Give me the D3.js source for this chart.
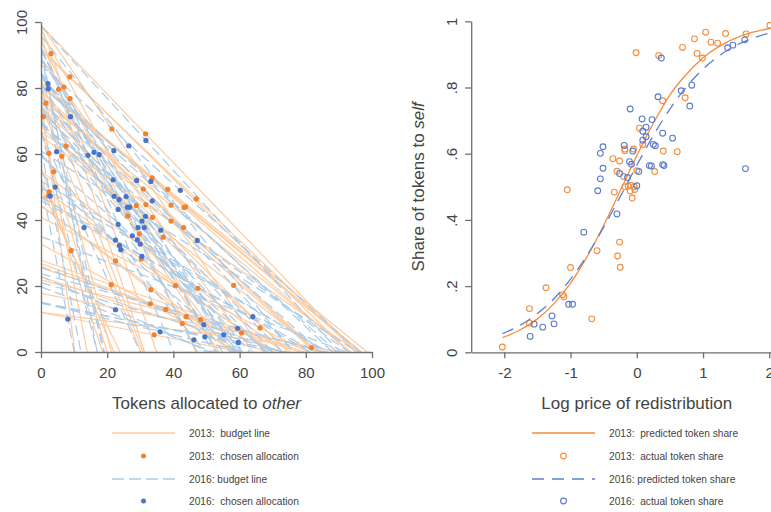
<!DOCTYPE html>
<html>
<head>
<meta charset="utf-8">
<script src="https://cdn.jsdelivr.net/npm/d3@7"></script>
<style>
  body { margin: 0; background: #fff; }
  svg { font-family: "Liberation Sans", Arial, sans-serif; }
</style>
</head>
<body>
<svg id="chart" width="771" height="512"></svg>
<script>
// ---- Left panel: chosen allocations and the log price of each budget ----
const allocOther2013 = [3.0, 8.7, 5.3, 6.9, 8.8, 1.5, 0.7, 7.6, 2.4, 6.3, 3.8, 21.4, 31.6, 33.6, 30.9, 38.3, 46.9, 2.2, 2.5, 31.7, 39.3, 43.2, 43.7, 28.8, 26.2, 33.7, 39.3, 43.1, 29.7, 36.9, 9.1, 22.5, 30.3, 21.2, 33.2, 40.6, 47.4, 58.2, 33.0, 37.7, 43.9, 42.7, 48.2, 34.2, 60.6, 66.2, 81.7];
const allocSelf2013 = [90.4, 83.4, 79.6, 80.3, 76.8, 75.4, 71.3, 62.4, 60.2, 59.3, 54.6, 67.6, 66.1, 52.8, 49.4, 49.3, 46.4, 47.3, 48.5, 44.7, 44.5, 43.8, 44.0, 44.4, 41.2, 40.8, 39.7, 37.7, 35.8, 34.8, 30.7, 27.6, 28.2, 20.4, 18.9, 20.1, 19.3, 20.2, 14.6, 12.9, 10.7, 8.6, 9.8, 5.2, 5.8, 7.3, 1.3];
const budgetLogPrice2013 = [1.04, -0.01, 1.12, 0.69, 0.33, 1.34, 2.01, 0.99, 1.65, 0.91, 1.22, 0.39, 0.04, -0.18, -0.05, -0.20, -0.04, 0.87, 1.10, -0.36, -0.20, -0.13, -0.18, 0.61, 0.40, 0.00, -0.09, -0.07, 0.27, -0.10, 0.73, -0.30, -0.34, -1.05, -0.26, -0.40, -0.29, -0.25, -0.60, -1.00, -1.37, -1.10, -1.12, -1.62, -1.62, -0.68, -2.03];

const allocOther2016 = [2.1, 2.2, 8.9, 4.7, 14.2, 16.0, 17.6, 22.0, 26.5, 31.7, 21.8, 28.9, 33.2, 42.1, 4.3, 2.8, 22.1, 23.6, 25.7, 33.6, 23.3, 26.1, 26.8, 31.6, 30.5, 13.0, 23.3, 29.3, 31.2, 36.2, 47.2, 22.5, 27.6, 29.1, 23.7, 24.1, 30.0, 30.5, 22.5, 8.1, 36.0, 46.2, 49.2, 49.5, 55.2, 59.4, 59.6, 64.0];
const allocSelf2016 = [81.3, 79.8, 71.3, 60.7, 59.6, 60.5, 59.8, 61.0, 62.5, 64.1, 52.2, 52.0, 51.7, 49.0, 50.0, 47.3, 47.2, 46.2, 47.1, 45.8, 43.2, 43.9, 43.9, 41.1, 39.7, 37.7, 38.7, 37.7, 37.7, 36.9, 33.8, 33.9, 35.2, 34.0, 32.3, 31.0, 32.7, 29.0, 12.8, 10.0, 6.1, 3.7, 8.3, 4.6, 5.2, 7.2, 2.9, 10.7];
const budgetLogPrice2016 = [1.70, 1.55, 0.37, 1.45, 0.83, 0.67, 0.32, -0.10, 0.23, 0.09, 0.08, 0.09, -0.06, -0.10, 1.37, 1.63, 0.14, 0.39, 0.54, -0.11, 0.14, 0.25, -0.45, 0.41, 0.39, 0.80, 0.28, 0.22, 0.03, 0.00, -0.30, -0.55, -0.51, -0.14, -0.08, 0.19, -0.55, -0.59, -0.80, 1.64, -0.97, -1.42, -1.03, -1.55, -1.25, -1.28, -1.61, -0.97];

// ---- Right panel: actual token shares against log price ----
const shareLogPrice2013 = [-2.03, -1.62, -1.62, -1.37, -1.12, -1.10, -1.00, -1.05, -0.68, -0.60, -0.26, -0.29, -0.25, -0.34, -0.18, -0.13, -0.09, -0.04, -0.03, -0.10, -0.07, -0.30, 0.00, 0.27, -0.20, -0.36, -0.26, -0.18, -0.18, -0.05, 0.40, 0.61, 0.09, 0.04, 0.39, 0.73, -0.01, 0.33, 0.69, 0.91, 0.99, 0.87, 1.04, 1.12, 1.22, 1.34, 1.65, 2.01];
const shareSelf2013 = [0.016, 0.088, 0.132, 0.195, 0.174, 0.168, 0.256, 0.491, 0.101, 0.307, 0.333, 0.291, 0.257, 0.484, 0.500, 0.502, 0.505, 0.500, 0.492, 0.487, 0.466, 0.547, 0.549, 0.546, 0.531, 0.585, 0.578, 0.614, 0.609, 0.614, 0.608, 0.606, 0.628, 0.677, 0.760, 0.769, 0.905, 0.897, 0.921, 0.903, 0.889, 0.947, 0.967, 0.937, 0.934, 0.963, 0.962, 0.988];

const shareLogPrice2016 = [-1.61, -1.42, -1.55, -1.25, -1.28, -1.03, -0.97, -0.80, -0.30, -0.59, 0.00, -0.55, -0.14, -0.26, 0.03, 1.64, -0.51, 0.22, 0.19, 0.41, 0.39, -0.08, -0.11, -0.55, -0.06, -0.51, 0.28, -0.19, 0.25, 0.09, 0.54, 0.14, 0.39, 0.09, 0.14, 0.23, 0.08, -0.10, 0.80, 0.32, 0.67, 0.83, 0.37, 1.37, 1.45, 1.63];
const shareSelf2016 = [0.048, 0.076, 0.085, 0.086, 0.110, 0.145, 0.145, 0.363, 0.418, 0.488, 0.503, 0.524, 0.528, 0.540, 0.546, 0.555, 0.556, 0.563, 0.564, 0.564, 0.567, 0.568, 0.576, 0.601, 0.608, 0.621, 0.624, 0.625, 0.628, 0.641, 0.647, 0.651, 0.662, 0.668, 0.680, 0.703, 0.705, 0.735, 0.744, 0.772, 0.790, 0.807, 0.889, 0.920, 0.928, 0.944];

// Predicted token share curves
const predLogPrice = [-2.03, -1.75, -1.5, -1.25, -1, -0.75, -0.5, -0.25, 0, 0.25, 0.5, 0.75, 1, 1.25, 1.5, 1.75, 2.02];
const predShare2013 = [0.044, 0.069, 0.101, 0.147, 0.209, 0.289, 0.383, 0.488, 0.594, 0.692, 0.778, 0.840, 0.890, 0.925, 0.950, 0.967, 0.979];
const predShare2016 = [0.056, 0.083, 0.117, 0.162, 0.221, 0.293, 0.378, 0.470, 0.565, 0.655, 0.735, 0.802, 0.856, 0.897, 0.927, 0.949, 0.965];

// Ticks and labels
const tokenTicks = [0, 20, 40, 60, 80, 100];
const priceTicks = [-2, -1, 0, 1, 2];
const shareTicks = [0, 0.2, 0.4, 0.6, 0.8, 1];
const shareTickLabels = ["0", ".2", ".4", ".6", ".8", "1"];

const legendLeft = ["2013:  budget line", "2013:  chosen allocation", "2016: budget line", "2016:  chosen allocation"];
const legendRight = ["2013:  predicted token share", "2013:  actual token share", "2016: predicted token share", "2016:  actual token share"];

// ---- Styling ----
const C = {
  budget13: "#fccca2",
  budget16: "#a9cbe9",
  dot13: "#f4822c",
  dot16: "#4a74c6",
  line13: "#f48c3c",
  line16: "#5b7fcf",
  ring13: "#f58d3e",
  ring16: "#5a7ccb",
  axis: "#6f6f6f",
  text: "#444444"
};

const svg = d3.select("#chart");

// ---- Scales ----
const xL = d3.scaleLinear().domain([0, 100]).range([41, 372]);
const yL = d3.scaleLinear().domain([0, 100]).range([352, 22]);
const xR = d3.scaleLinear().domain([-2.5, 2.5]).range([471.2, 802.4]);
const yR = d3.scaleLinear().domain([0, 1]).range([352.3, 21.3]);

function styleAxis(g) {
  g.select(".domain").attr("stroke", C.axis).attr("stroke-width", 1.3);
  g.selectAll(".tick line").attr("stroke", C.axis).attr("stroke-width", 1.3);
  g.selectAll(".tick text").attr("fill", C.text).attr("font-size", 15);
}
function rotateYLabels(g) {
  g.selectAll(".tick text")
    .attr("transform", "rotate(-90)")
    .attr("x", 0).attr("y", -14).attr("dy", 0)
    .attr("text-anchor", "middle");
}

// ---- Left panel ----
svg.append("defs").append("clipPath").attr("id", "clipL")
  .append("rect").attr("x", xL(0)).attr("y", yL(100))
  .attr("width", xL(100) - xL(0)).attr("height", yL(0) - yL(100));

const gL = svg.append("g");
const plotL = gL.append("g").attr("clip-path", "url(#clipL)");

// Budget line through a chosen allocation with price p = exp(logPrice):
// self/S + other/O = 1 with S = p * O
function budget(o, s, lp) {
  const p = Math.exp(lp);
  const O = o + s / p;
  const S = s + p * o;
  return { O, S };
}

function drawBudgets(others, selfs, lps, color, dash) {
  plotL.append("g").selectAll("line")
    .data(others.map((o, i) => budget(o, selfs[i], lps[i])))
    .join("line")
    .attr("x1", xL(0)).attr("y1", d => yL(d.S))
    .attr("x2", d => xL(d.O)).attr("y2", yL(0))
    .attr("stroke", color).attr("stroke-width", 1.2)
    .attr("stroke-dasharray", dash);
}
function drawDots(others, selfs, color) {
  gL.append("g").selectAll("circle")
    .data(others.map((o, i) => [o, selfs[i]]))
    .join("circle")
    .attr("cx", d => xL(d[0])).attr("cy", d => yL(d[1]))
    .attr("r", 2.6).attr("fill", color);
}

drawBudgets(allocOther2013, allocSelf2013, budgetLogPrice2013, C.budget13, null);
drawDots(allocOther2013, allocSelf2013, C.dot13);
drawBudgets(allocOther2016, allocSelf2016, budgetLogPrice2016, C.budget16, "10,5");
drawDots(allocOther2016, allocSelf2016, C.dot16);

gL.append("g").attr("transform", `translate(0,${yL(0)})`)
  .call(d3.axisBottom(xL).tickValues(tokenTicks).tickSize(6).tickSizeOuter(0).tickPadding(9))
  .call(styleAxis);
gL.append("g").attr("transform", `translate(${xL(0)},0)`)
  .call(d3.axisLeft(yL).tickValues(tokenTicks).tickSize(6).tickSizeOuter(0))
  .call(styleAxis).call(rotateYLabels);

const tL = gL.append("text").attr("x", (xL(0) + xL(100)) / 2).attr("y", 409)
  .attr("text-anchor", "middle").attr("font-size", 17).attr("fill", C.text);
tL.append("tspan").text("Tokens allocated to ");
tL.append("tspan").attr("font-style", "italic").text("other");

// ---- Right panel ----
const gR = svg.append("g");
const line = d3.line().x(d => xR(d[0])).y(d => yR(d[1])).curve(d3.curveMonotoneX);

gR.append("path")
  .datum(predLogPrice.map((x, i) => [x, predShare2013[i]]))
  .attr("d", line).attr("fill", "none")
  .attr("stroke", C.line13).attr("stroke-width", 1.3);
gR.append("g").selectAll("circle")
  .data(shareLogPrice2013.map((x, i) => [x, shareSelf2013[i]]))
  .join("circle")
  .attr("cx", d => xR(d[0])).attr("cy", d => yR(d[1])).attr("r", 2.9)
  .attr("fill", "none").attr("stroke", C.ring13).attr("stroke-width", 1.1);

gR.append("path")
  .datum(predLogPrice.map((x, i) => [x, predShare2016[i]]))
  .attr("d", line).attr("fill", "none")
  .attr("stroke", C.line16).attr("stroke-width", 1.3)
  .attr("stroke-dasharray", "12,8");
gR.append("g").selectAll("circle")
  .data(shareLogPrice2016.map((x, i) => [x, shareSelf2016[i]]))
  .join("circle")
  .attr("cx", d => xR(d[0])).attr("cy", d => yR(d[1])).attr("r", 2.9)
  .attr("fill", "none").attr("stroke", C.ring16).attr("stroke-width", 1.1);

gR.append("g").attr("transform", `translate(0,${yR(0)})`)
  .call(d3.axisBottom(xR).tickValues(priceTicks).tickSize(6).tickSizeOuter(0).tickPadding(9)
    .tickFormat(d => d < 0 ? "-" + Math.abs(d) : String(d)))
  .call(styleAxis);
gR.append("g").attr("transform", `translate(${xR(-2.5)},0)`)
  .call(d3.axisLeft(yR).tickValues(shareTicks).tickSize(6).tickSizeOuter(0)
    .tickFormat((d, i) => shareTickLabels[i]))
  .call(styleAxis).call(rotateYLabels);

gR.append("text").attr("x", xR(0)).attr("y", 409)
  .attr("text-anchor", "middle").attr("font-size", 17).attr("fill", C.text)
  .text("Log price of redistribution");

const tY = gR.append("text")
  .attr("transform", `translate(424,${(yR(0) + yR(1)) / 2}) rotate(-90)`)
  .attr("text-anchor", "middle").attr("font-size", 17).attr("fill", C.text);
tY.append("tspan").text("Share of tokens to ");
tY.append("tspan").attr("font-style", "italic").text("self");

// ---- Legends ----
const legendRows = [433, 456, 479, 501];

function legend(x0, labels, kinds) {
  const g = svg.append("g");
  labels.forEach((lab, i) => {
    const y = legendRows[i];
    const k = kinds[i];
    if (k.type === "line") {
      g.append("line").attr("x1", x0).attr("x2", x0 + 63).attr("y1", y).attr("y2", y)
        .attr("stroke", k.color).attr("stroke-width", k.width || 1.3)
        .attr("stroke-dasharray", k.dash || null);
    } else {
      g.append("circle").attr("cx", x0 + 31.5).attr("cy", y).attr("r", k.r)
        .attr("fill", k.fill).attr("stroke", k.stroke || "none").attr("stroke-width", 1.1);
    }
    g.append("text").attr("x", x0 + 77).attr("y", y).attr("dy", "0.35em")
      .attr("font-size", 10.2).attr("fill", C.text)
      .style("white-space", "pre").text(lab);
  });
}

legend(112, legendLeft, [
  { type: "line", color: C.budget13, width: 1.5 },
  { type: "dot", r: 2.5, fill: C.dot13 },
  { type: "line", color: C.budget16, width: 1.5, dash: "12,5" },
  { type: "dot", r: 2.5, fill: C.dot16 }
]);
legend(532, legendRight, [
  { type: "line", color: C.line13, width: 1.4 },
  { type: "dot", r: 2.9, fill: "none", stroke: C.ring13 },
  { type: "line", color: C.line16, width: 1.4, dash: "12,8" },
  { type: "dot", r: 2.9, fill: "none", stroke: C.ring16 }
]);
</script>
</body>
</html>
